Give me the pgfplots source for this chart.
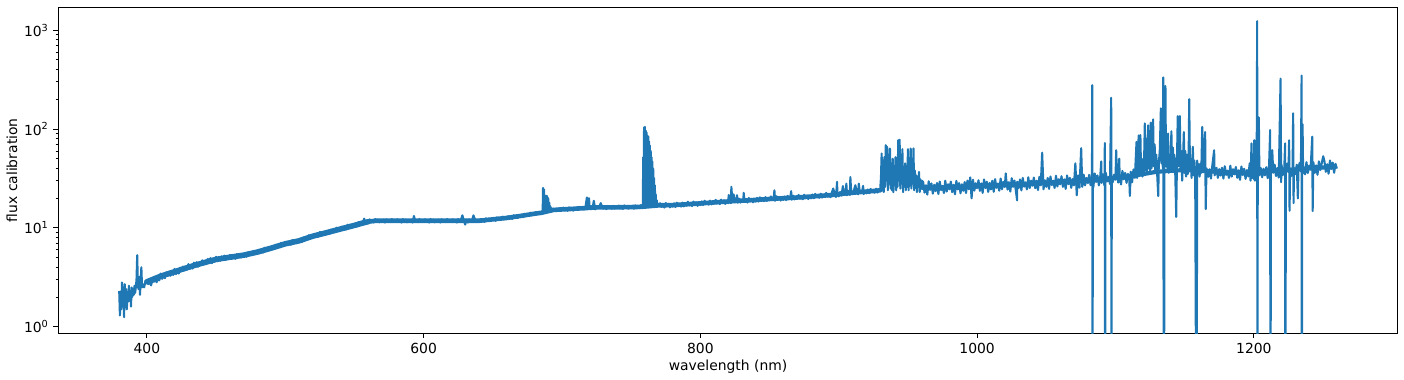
\documentclass[border=0pt]{standalone}
\usepackage{pgfplots}
\pgfplotsset{compat=1.18}
\usepackage{fontspec}
\setmainfont{DejaVu Sans}
\definecolor{mplblue}{HTML}{1F77B4}
\begin{document}
\begin{tikzpicture}
\begin{axis}[
  name=main,
  scale only axis,
  width=964.3pt, height=234.5pt,
  xmin=336, xmax=1304,
  ymode=log, ymin=0.863, ymax=1700,
  xtick={400,600,800,1000,1200},
  ytick={1,10,100,1000},
  yticklabels={10\textsuperscript{0},10\textsuperscript{1},10\textsuperscript{2},10\textsuperscript{3}},
  tick align=outside,
  major tick length=3.5pt,
  minor tick length=2pt,
  tick style={black, line width=0.6pt},
  xtick pos=bottom, ytick pos=left,
  axis line style={line width=0.6pt},
  tick label style={font=\fontsize{10}{12}\selectfont},
  label style={font=\fontsize{10}{12}\selectfont},
  /pgf/number format/assume math mode=true,
  /pgf/number format/1000 sep={},
  xlabel={wavelength (nm)},
  ylabel={flux calibration},
  xlabel style={yshift=2pt},
  ylabel style={yshift=-2pt},
]
% band centre (noise envelope core)
\addplot[mplblue, line width=4pt, line join=round, line cap=round] table {
400 2.85
410 3.25
420 3.6
430 4.0
440 4.4
450 4.8
460 5.05
470 5.3
480 5.7
490 6.25
500 6.9
510 7.4
520 8.25
530 8.95
540 9.75
550 10.6
556 11.2
560 11.55
};
\addplot[mplblue, line width=3.3pt, line join=round, line cap=round] table {
560 11.55
565 11.8
640 11.8
650 12.2
660 12.6
670 13.2
680 13.9
685 14.2
694 15.2
705 15.5
715 15.8
725 16.1
740 16.15
757 16.3
770 16.9
780 17.0
795 17.5
805 17.9
815 18.3
825 18.7
835 19.0
845 19.4
855 19.8
865 20.1
875 20.5
885 21.0
895 21.5
905 22.3
915 23.0
925 23.6
930 24.0
};
\addplot[mplblue, line width=3pt, line join=round, line cap=round] table {
960 25.5
980 25.7
1000 26.4
1020 27.2
1040 28.0
1060 29.0
1080 29.8
1100 32
1115 34
1130 37
1150 38.5
1165 37.5
1180 36.5
1195 36
1210 37.2
1225 38.5
1240 40
1258 41.5
};
\addplot[mplblue, line width=1.5pt, line join=round] table {
380 2.3
380.5 1.3
381 2.1
381.5 1.5
382 2.8
382.5 1.6
383 2.5
383.5 1.25
384 2.7
384.5 1.7
385 2.4
385.5 1.5
386 2.2
386.5 1.8
387 2.6
387.5 1.9
388 2.3
388.5 1.6
389 2.5
389.5 2.0
390 2.4
390.5 2.1
391 2.6
391.5 2.2
392 2.5
392.5 3.0
393 5.3
393.5 2.6
394 2.4
394.5 3.2
395 2.1
396 4.0
396.5 2.5
397 2.7
398 2.5
399 2.9
400 2.95
401 2.70
402 2.85
403 2.62
404 2.98
405 2.85
406 3.12
407 2.82
408 3.05
409 2.95
410 3.45
411 3.05
412 3.35
413 3.10
414 3.55
415 3.30
416 3.62
417 3.28
418 3.48
419 3.35
420 3.85
421 3.40
422 3.70
423 3.45
424 3.95
425 3.70
426 4.05
427 3.72
428 3.90
429 3.78
430 4.30
431 3.85
432 4.15
433 3.88
434 4.45
435 4.10
436 4.50
437 4.05
438 4.35
439 4.20
440 4.70
441 4.25
442 4.55
443 4.30
444 4.85
445 4.50
446 4.95
447 4.40
448 4.75
449 4.55
450 5.10
451 4.60
452 4.90
453 4.65
454 5.15
455 4.85
456 5.25
457 4.75
458 5.05
459 4.85
460 5.30
461 5.23
462 4.91
463 5.14
464 4.86
465 5.41
466 5.13
467 5.37
468 5.03
469 5.38
470 5.19
471 5.50
472 5.11
473 5.64
474 5.35
475 5.56
476 5.32
477 5.86
478 5.45
479 5.77
480 5.64
481 5.99
482 5.65
483 5.94
484 5.64
485 6.30
486 6.00
487 6.30
488 5.93
489 6.36
490 6.17
491 6.55
492 6.10
493 6.74
494 6.41
495 6.67
496 6.39
497 7.06
498 6.58
499 6.98
500 6.83
501 7.23
502 6.79
503 7.12
504 6.75
505 7.51
506 7.13
507 7.47
508 7.01
509 7.50
510 7.25
511 7.71
512 7.20
513 7.98
514 7.60
515 7.93
516 7.62
517 8.43
518 7.88
519 8.37
520 8.22
521 8.70
522 8.19
523 8.60
524 8.15
525 9.08
526 8.63
527 9.05
528 8.51
529 9.11
530 8.82
531 9.35
532 8.70
533 9.61
534 9.13
535 9.49
536 9.10
537 10.04
538 9.35
539 9.91
540 9.70
541 10.29
542 9.68
543 10.17
544 9.65
545 10.76
546 10.24
547 10.74
548 10.10
549 10.82
550 10.49
551 11.12
552 10.36
553 11.44
554 10.88
555 11.31
556 10.85
557 12.40
558 11.11
559 11.73
560 11.48
561 12.21
562 11.51
563 11.92
564 11.33
565 12.27
566 11.68
567 12.10
568 11.39
569 11.98
570 11.56
571 12.10
572 11.33
573 12.21
574 11.62
575 11.86
576 11.45
577 12.27
578 11.51
579 11.98
580 11.68
581 12.21
582 11.51
583 11.92
584 11.33
585 12.27
586 11.68
587 12.10
588 11.39
589 11.98
590 11.56
591 12.10
592 11.33
593 13.20
594 11.62
595 11.86
596 11.45
597 12.27
598 11.51
599 11.98
600 11.68
601 12.21
602 11.51
603 11.92
604 11.33
605 12.27
606 11.68
607 12.10
608 11.39
609 11.98
610 11.56
611 12.10
612 11.33
613 12.21
614 11.62
615 11.86
616 11.45
617 12.27
618 11.51
619 11.98
620 11.68
621 12.21
622 11.51
623 11.92
624 11.33
625 12.27
626 11.68
627 12.10
628 13.40
629 11.98
630 10.80
631 12.10
632 11.33
633 12.21
634 11.62
635 11.86
636 13.40
637 12.27
638 11.51
639 11.98
640 11.68
641 12.25
642 11.58
643 12.04
644 11.48
645 12.48
646 11.92
647 12.38
648 11.70
649 12.34
650 11.96
651 12.55
652 11.79
653 12.75
654 12.17
655 12.46
656 12.07
657 12.98
658 12.21
659 12.75
660 12.47
661 13.10
662 12.40
663 12.91
664 12.33
665 13.42
666 12.83
667 13.35
668 12.62
669 13.34
670 12.94
671 13.60
672 12.81
673 13.88
674 13.28
675 13.62
676 13.21
677 14.24
678 13.42
679 14.04
680 13.76
681 14.40
682 13.75
683 14.35
684 13.85
685 14.50
686 14.0
686.3 25.4
686.6 14.5
687 24.5
687.3 15.0
687.7 21.0
688 15.0
688.4 21.2
688.8 15.5
689.2 21.0
689.6 15.2
690 20.0
690.4 15.5
690.8 18.0
691.2 15.0
691.6 16.5
692 14.6
692.5 15.8
693 14.9
694 15.6
695 14.8
696 15.5
697 14.9
698 15.8
699 15.0
700 15.7
701 16.04
702 15.11
703 15.66
704 14.88
705 16.12
706 15.35
707 15.89
708 14.96
709 15.73
710 15.19
711 16.20
712 15.17
713 16.35
714 15.56
715 15.88
716 15.33
717 16.43
718 20.30
719 16.04
719.5 20.0
720 15.64
721 16.56
722 15.60
723 18.80
724 15.36
725 16.64
726 15.84
727 16.40
728 17.80
729 16.24
730 15.68
731 16.50
732 15.46
733 16.66
734 15.86
735 16.18
736 15.62
737 16.74
738 15.70
739 16.34
740 15.94
741 16.77
742 15.80
743 16.36
744 15.55
745 16.85
746 16.04
747 16.61
748 15.63
749 16.44
750 15.88
751 16.71
752 15.65
753 16.87
754 16.06
755 16.38
756 15.81
757 17.00
758 16.0
758.4 16.8
758.7 52
759.0 16.2
759.3 104
759.6 17
759.9 105
760.2 17
760.5 96
760.8 16.5
761.1 92
761.4 17
761.7 86
762.0 16.5
762.3 84
762.6 17
762.9 75
763.2 16.5
763.5 68
763.8 17
764.1 60
764.4 16.5
764.7 52
765.0 17
765.3 47
765.6 16.5
765.9 40
766.2 17
766.5 32
766.8 16.5
767.1 27
767.4 16.5
767.7 22
768.0 16.8
768.5 19
769 16.6
770 17.4
771 17.75
772 16.31
773 17.15
774 16.06
775 17.83
776 16.65
777 17.49
778 16.14
779 17.24
780 16.39
781 17.70
782 16.25
783 17.96
784 16.76
785 17.27
786 16.42
787 18.04
788 16.50
789 17.44
790 16.84
791 18.38
792 16.89
793 17.76
794 16.63
795 18.46
796 17.24
797 18.11
798 16.71
799 17.85
800 16.98
801 18.53
802 17.01
803 18.80
804 17.54
805 18.08
806 17.18
807 18.88
808 17.27
809 18.26
810 17.63
811 19.22
812 17.66
813 18.57
814 17.39
815 19.31
816 18.03
817 18.94
818 17.48
819 18.67
820 17.75
820.5 21.5
821 19.35
822 17.77
822.4 26.0
823 19.64
824 21.8
825 18.33
826 18.89
826.5 21.4
827 17.95
828 19.73
829 18.05
830 19.07
831 18.42
831.3 22.6
832 18.34
833 19.29
834 18.05
835 20.05
836 18.72
837 19.67
838 18.15
839 19.38
840 18.43
841 20.08
842 18.43
843 20.37
844 19.01
845 19.59
846 18.62
847 20.47
848 18.72
849 19.79
850 19.11
851 20.79
852 19.11
853 20.10
853.5 24.0
854 18.81
855 20.89
856 19.50
857 20.49
858 18.91
859 20.20
860 19.21
861 20.80
862 19.10
863 21.11
864 19.70
865 20.30
865.6 23.5
866 19.30
867 21.21
868 19.40
869 20.50
870 19.80
871 21.53
872 19.78
873 20.81
874 19.48
875 21.63
876 20.19
877 21.22
878 19.58
879 20.91
880 19.89
881 21.74
882 19.95
883 22.05
884 20.58
885 21.21
886 20.16
887 22.16
888 20.27
889 21.42
890 20.69
891 22.58
892 20.75
893 21.82
894 20.43
895 22.68
896 25.0
897 22.25
898 20.53
898.8 29.2
899 21.93
900 20.86
901 23.08
902 21.19
903 26.5
904 21.85
905 22.52
905.5 28.0
906 21.41
907 23.53
908 21.52
908.4 32.7
909 22.75
910 21.97
911 24.15
912 27.0
913 23.35
914 21.85
914.5 28.0
915 24.27
916 22.66
917 23.81
917.6 26.6
918 21.97
919 23.46
920 22.31
921 24.43
922 22.42
923 24.78
924 23.13
925 23.84
926 22.66
927 24.90
928 22.77
929 24.07
930 25.0
930.5 32
931 56.6
931.5 24
932 48
932.5 23
933 52
933.5 26
934 68.6
934.5 30
935 66
935.5 24
936 55
936.5 28
937 63.5
937.5 25
938 45
938.5 24
939 50
939.5 23
940 40
940.5 27
941 52
941.5 24
942 48
942.5 26
943 77
943.5 30
944 78
944.5 25
945 55
945.5 28
946 62.5
946.5 23
947 41.5
947.5 27
948 45
948.5 24
949 38
949.5 26
950 62.5
950.5 24
951 45
951.5 27
952 63.5
952.5 25
953 40
953.5 28
954 63.5
954.5 24
955 38
955.5 27
956 34
956.5 23
957 33
957.5 26
958 36.8
958.5 23
959 31
959.5 25
960 30
961 29.1
962 22.7
963 27.0
964 21.7
965 29.6
966 24.2
967 28.1
968 22.2
969 27.3
970 23.5
971 28.4
972 22.0
973 29.4
974 24.1
975 26.6
976 22.5
977 30.0
978 23.3
979 27.6
980 24.6
981 29.4
982 23.0
983 27.3
984 21.9
985 29.9
986 24.5
987 28.4
988 22.4
989 27.6
990 23.7
991 29.1
992 22.5
993 30.1
994 24.6
995 32.4
996 19.9
997 30.7
998 23.8
999 28.3
1000 25.2
1001 30.3
1002 23.7
1003 28.2
1004 22.6
1005 30.9
1006 25.3
1007 29.3
1008 23.1
1009 28.5
1010 24.5
1011 30.0
1012 23.2
1013 31.1
1014 25.4
1015 28.1
1016 23.8
1017 31.6
1018 24.6
1019 29.2
1020 25.9
1020.7 35.6
1021 31.2
1022 24.4
1023 29.0
1024 23.3
1025 31.8
1026 26.0
1027 30.1
1028 23.8
1028.9 19.0
1029 29.3
1030 25.2
1031 30.9
1032 23.9
1033 32.0
1034 26.1
1035 28.9
1036 24.5
1037 32.5
1038 25.3
1039 30.0
1040 26.7
1041 32.3
1042 25.2
1043 30.0
1044 24.1
1045 32.8
1046 26.9
1047 57.6
1048 24.6
1049 30.3
1050 26.0
1051 32.0
1052 24.8
1053 33.1
1054 27.1
1055 30.0
1056 25.3
1057 33.7
1058 26.2
1059 31.1
1060 27.6
1061 33.3
1062 26.0
1063 31.0
1064 24.8
1065 33.9
1066 27.7
1067 32.1
1068 25.4
1069 31.2
1070 26.9
1071 45
1072 21.4
1073 34.0
1074 25.5
1075.2 64
1076 26.0
1077 34.6
1078 26.9
1079 32.0
1080 28.4
1081 34.4
1082 27.0
1083 32.2
1083.2 278
1083.4 0.01
1083.6 26
1084 25.9
1085 35.5
1086 29.2
1087 33.9
1088 26.9
1089 33.2
1089.7 47
1090 28.5
1091 34.5
1092 26.8
1092.3 72
1092.5 0.01
1092.7 30
1093 36.0
1094 29.5
1095 32.8
1096 27.8
1096.9 207
1097.1 0.01
1097.3 30
1098 28.9
1099 34.5
1100 30.7
1100.5 61
1101 36.6
1102 28.7
1102.7 50
1103 34.2
1104 27.5
1105 37.7
1106 31.0
1107 36.0
1108 28.5
1109 35.2
1110 30.4
1110.4 21
1111 37.0
1112 28.9
1113 39.0
1114 32.1
1115.2 74
1115.6 32
1116.2 60
1116.8 86
1117.2 34
1118 87
1118.5 35
1119 50
1119.5 33
1120 45
1120.5 36
1121.2 114
1121.6 38
1122.2 80
1122.7 36
1123.6 109
1124 40
1124.6 90
1125 38
1125.5 116
1126 40
1126.5 75
1127.2 125
1127.6 42
1128.3 70
1128.8 36
1129.5 55
1130 38
1130.9 21
1131.3 45
1132 60
1132.8 162
1133.2 45
1133.8 120
1134.2 40
1134.5 333
1135.0 0.01
1135.4 60
1136.1 272
1136.5 42
1137 70
1137.5 40
1138 90
1138.5 36
1139.2 55
1139.7 38
1140.4 95
1140.9 40
1141.5 65
1142 37
1142.5 55
1143.2 35
1143.9 12.9
1144.4 45
1145 135
1145.5 42
1146.5 135
1147 40
1147.6 60
1148.2 30
1148.8 50
1149.4 93
1149.9 36
1150.5 60
1151 33
1151.6 55
1152.2 35
1152.8 45
1153.3 200
1153.8 40
1154.4 50
1155 32
1155.9 66
1156.4 34
1157 48
1157.6 35
1158.6 0.01
1159 48
1159.6 38
1160.2 44
1160.8 33
1161.5 45
1162 36
1162.7 105
1163.3 38
1164 55
1164.8 93
1165.2 15.5
1165.8 40
1167 32.9
1168 39.2
1169 31.5
1170 42.9
1171.3 61
1171.6 34
1172 35.0
1173 40.5
1174 32.0
1175 39.3
1176 33.8
1177 40.6
1178 31.5
1179 42.0
1180 34.3
1181 38.0
1182 32.0
1183 42.6
1184 33.0
1185 39.2
1186 34.8
1187 41.3
1188 32.1
1189 38.3
1190 30.6
1191 41.8
1192 34.2
1193 39.6
1194 31.3
1195 38.5
1196 33.1
1197 45
1197.6 30
1198.3 71.5
1198.8 32
1199.5 50
1200 31
1200.3 77
1200.8 30
1201.5 45
1202 32
1202.4 1233
1202.6 0.01
1202.8 40
1203.6 131
1204 34
1205 40.3
1206 32.5
1207 39.6
1208 34.0
1209 41.1
1210 31.8
1211 42.6
1211.8 97.6
1212.0 0.01
1212.3 35
1213.3 61
1214 36.1
1215 43.7
1216 33.4
1217 40.3
1218 32.3
1219.3 323
1219.7 29
1220 43.5
1221 34.3
1222 40.8
1222.6 71.5
1222.8 0.01
1223.1 36
1224 44.7
1225 36.6
1225.5 77
1225.8 14.9
1226.2 40
1227 33.5
1228 41
1228.4 144
1228.7 17.8
1229 40.4
1230 35.0
1231 43.5
1231.8 19.9
1232.2 38
1233 45.4
1234 37.1
1234.5 347
1234.7 0.01
1234.9 40
1235.2 112
1235.6 36
1236 41.1
1237 34.8
1238 46.2
1239 35.9
1240 42.7
1241 38.9
1242.2 83.7
1242.5 14.8
1243 46.2
1244 36.0
1245 42.9
1246 34.4
1247 47.0
1248 38.5
1249 44.6
1250.1 53
1251 47.3
1252 36.9
1253 44.0
1254 35.3
1255 48.1
1256 39.4
1257 45.7
1258 36.1
1259 44.4
1260 39.8
};
\end{axis}
\path ([shift={(-42pt,-33.1pt)}]main.south west) rectangle ([shift={(4.5pt,5.3pt)}]main.north east);
\end{tikzpicture}
\end{document}
